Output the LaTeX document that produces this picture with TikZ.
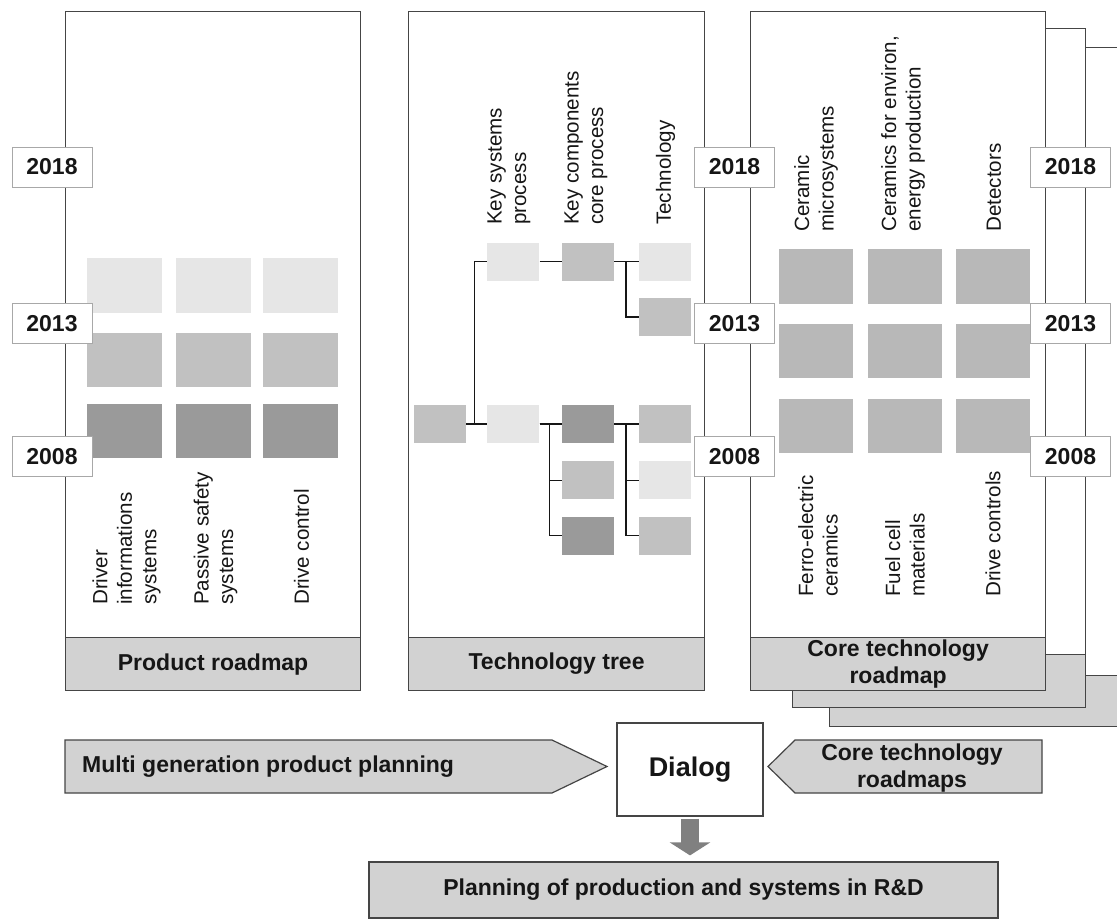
\documentclass[tikz,border=0pt]{standalone}
\usepackage{fontspec}
\setmainfont{Liberation Sans}
\usetikzlibrary{arrows.meta,positioning}

\definecolor{shadeA}{HTML}{E6E6E6}
\definecolor{shadeB}{HTML}{C1C1C1}
\definecolor{shadeC}{HTML}{9A9A9A}
\definecolor{coregray}{HTML}{B8B8B8}
\definecolor{footgray}{HTML}{D2D2D2}
\definecolor{linegray}{HTML}{454545}
\definecolor{boxgray}{HTML}{A8A8A8}
\definecolor{arrowgray}{HTML}{808080}
\definecolor{ink}{HTML}{161616}

\newcommand\boldfont{\fontsize{23}{27}\selectfont\bfseries}

\begin{document}
\begin{tikzpicture}[x=1pt, y=-1pt,
    panel/.style={draw=linegray, line width=1.2pt, fill=white, anchor=north west,
      minimum width=295pt, minimum height=679pt, inner sep=0pt},
    footer/.style={draw=linegray, line width=1.2pt, fill=footgray, anchor=south west,
      minimum width=295pt, minimum height=53pt, inner sep=0pt, align=center,
      font=\boldfont, text=ink},
    yearbox/.style={draw=boxgray, line width=0.8pt, fill=white, minimum width=80pt,
      minimum height=40pt, inner sep=0pt, font=\boldfont, text=ink},
    tile/.style={minimum width=52pt, minimum height=38pt, inner sep=0pt},
    block/.style={minimum width=74pt, minimum height=54pt, inner sep=0pt},
    vlabel/.style={rotate=90, anchor=west, align=left, inner sep=0pt,
      font=\fontsize{20.6}{24.5}\selectfont, text=ink},
    branch/.style={draw=ink, line width=1.2pt},
    blockarrow/.style={draw=linegray, line width=1.2pt, fill=footgray, line join=miter},
    boldlbl/.style={inner sep=0pt, font=\boldfont, text=ink},
  ]
  \clip (0,0) rectangle (1117,920);

  % panels
  \node[panel] (prod) at (65,11) {};
  \node[footer] (prodfoot) at (prod.south west) {Product roadmap};
  \node[panel, minimum width=296pt] (tree) at (408,11) {};
  \node[footer, minimum width=296pt] (treefoot) at (tree.south west) {Technology tree};
  \node[panel, minimum width=301pt] (core3) at (829,47) {};
  \node[footer, minimum width=301pt, minimum height=51pt] (core3foot) at (core3.south west) {};
  \node[panel, minimum width=293pt] (core2) at (792,28) {};
  \node[footer, minimum width=293pt] (core2foot) at (core2.south west) {};
  \node[panel] (core1) at (750,11) {};
  \node[footer] (core1foot) at (core1.south west) {Core technology\\roadmap};

  % product roadmap
  \foreach \x [count=\i] in {124.5,213.5,300.5}
    \foreach \y/\c [count=\j] in {285.5/shadeA, 360/shadeB, 431/shadeC}
      \node[block, minimum width=75pt, fill=\c] (p-\i-\j) at (\x,\y) {};
  \node[vlabel] (pl1) at (126.5,605) {Driver\\informations\\systems};
  \node[vlabel] (pl2) at (215.5,605) {Passive safety\\systems};
  \node[vlabel] (pl3) at (301.5,605) {Drive control};

  % technology tree
  \node[vlabel] (tl1) at (509,225) {Key systems\\process};
  \node[vlabel] (tl2) at (586,225) {Key components\\core process};
  \node[vlabel] (tl3) at (665.5,225) {Technology};
  \node[tile, fill=shadeB] (R) at (440,424) {};
  \node[tile, fill=shadeA] (B1) [right=21pt of R] {};
  \node[tile, fill=shadeC] (B2) [right=22pt of B1] {};
  \node[tile, fill=shadeB] (B3) [below=18pt of B2] {};
  \node[tile, fill=shadeC] (B4) [below=17pt of B3] {};
  \node[tile, fill=shadeB] (C1) [right=25pt of B2] {};
  \node[tile, fill=shadeA] (C2) [below=18pt of C1] {};
  \node[tile, fill=shadeB] (C3) [below=17pt of C2] {};
  \node[tile, fill=shadeA] (A1) [above=124pt of B1] {};
  \node[tile, fill=shadeB] (A2) [right=22pt of A1] {};
  \node[tile, fill=shadeA] (A3) [right=25pt of A2] {};
  \node[tile, fill=shadeB] (A4) [below=17pt of A3] {};

  \draw[branch] (R.east) -- ++(8,0) |- (A1.west);
  \draw[branch] (R.east) -- (B1.west);
  \draw[branch] (A1.east) -- (A2.west);
  \foreach \t in {A3,A4}
    \draw[branch] (A2.east) -- ++(12,0) |- (\t.west);
  \foreach \t in {B2,B3,B4}
    \draw[branch] (B1.east) -- ++(10,0) |- (\t.west);
  \foreach \t in {C1,C2,C3}
    \draw[branch] (B2.east) -- ++(12,0) |- (\t.west);

  % core technology roadmap
  \foreach \x [count=\i] in {816,904.5,992.5}
    \foreach \y [count=\j] in {276.5,350.5,425.5}
      \node[block, fill=coregray] (c-\i-\j) at (\x,\y) {};
  \node[vlabel] (cl1) at (816,232) {Ceramic\\microsystems};
  \node[vlabel] (cl2) at (903,232) {Ceramics for environ,\\energy production};
  \node[vlabel] (cl3) at (994,232) {Detectors};
  \node[vlabel] (cl4) at (818,597) {Ferro-electric\\ceramics};
  \node[vlabel] (cl5) at (905,597) {Fuel cell\\materials};
  \node[vlabel] (cl6) at (993,597) {Drive controls};

  % years
  \foreach \yr/\y in {2018/167, 2013/323.5, 2008/456.5}
    \foreach \x/\s in {52/a, 734.5/b, 1070.5/c}
      \node[yearbox] (y\s\yr) at (\x,\y) {\yr};

  % dialog
  \draw[blockarrow] (65,740) -- (552,740) -- (607,766.5) -- (552,793) -- (65,793) -- cycle;
  \node[boldlbl, anchor=west] (mgpp) at (82,766.5) {Multi generation product planning};
  \node[draw=linegray, line width=1.2pt, fill=white, minimum width=146pt, minimum height=93pt,
    font=\fontsize{27}{30}\selectfont\bfseries, text=ink] (dialog) at (690,769.5) {Dialog};
  \draw[blockarrow] (768,766.5) -- (795,740) -- (1042,740) -- (1042,793) -- (795,793) -- cycle;
  \node[boldlbl, align=center] (ctr) at (912,768) {Core technology\\roadmaps};
  \node[draw=linegray, line width=1.2pt, fill=footgray, minimum width=629pt, minimum height=56pt,
    font=\boldfont, text=ink] (plan) at (683.5,890) {Planning of production and systems in R\&D};
  \draw[arrowgray, line width=18pt, shorten <=2pt, shorten >=6pt,
    -{Triangle[width=40pt,length=13pt]}] (dialog.south) -- (dialog.south |- plan.north);
\end{tikzpicture}
\end{document}
